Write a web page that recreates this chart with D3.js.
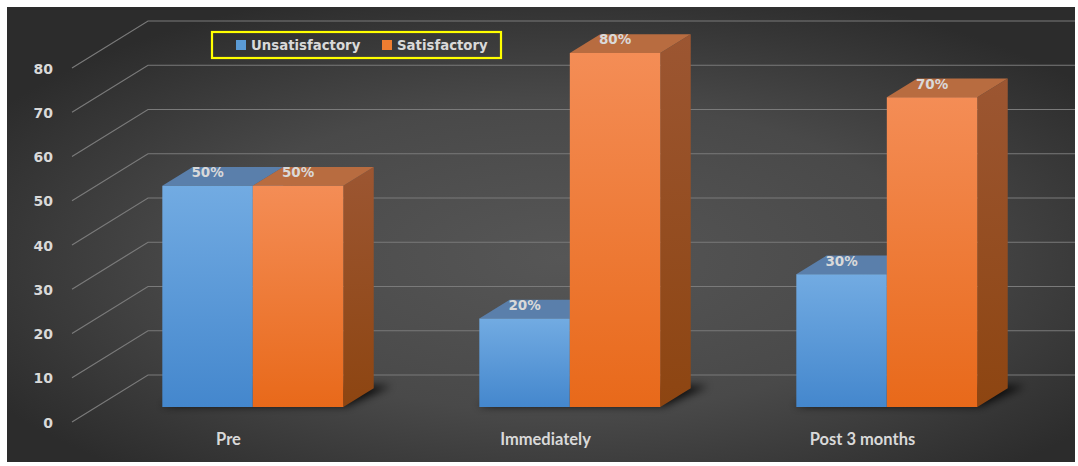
<!DOCTYPE html>
<html>
<head>
<meta charset="utf-8">
<script src="https://cdn.jsdelivr.net/npm/d3@7"></script>
<style>
html,body{margin:0;padding:0;background:#fff;}
svg{display:block;}
</style>
</head>
<body>
<svg id="chart" width="1078" height="466"></svg>
<script>
const categories = ["Pre", "Immediately", "Post 3 months"];
const seriesNames = ["Unsatisfactory", "Satisfactory"];
const unsatisfactory = [50, 20, 30];
const satisfactory = [50, 80, 70];
const yTicks = [0, 10, 20, 30, 40, 50, 60, 70, 80];

const svg = d3.select("#chart");
const defs = svg.append("defs");

// background
const bg = defs.append("radialGradient").attr("id","bg").attr("cx","52%").attr("cy","55%").attr("r","62%");
bg.append("stop").attr("offset","0%").attr("stop-color","#565656");
bg.append("stop").attr("offset","55%").attr("stop-color","#494949");
bg.append("stop").attr("offset","100%").attr("stop-color","#2c2c2c");
svg.append("rect").attr("x",7).attr("y",7).attr("width",1068).attr("height",455).attr("fill","url(#bg)");

function lin(id, c1, c2){
  const g = defs.append("linearGradient").attr("id",id).attr("x1",0).attr("y1",0).attr("x2",0).attr("y2",1);
  g.append("stop").attr("offset","0%").attr("stop-color",c1);
  g.append("stop").attr("offset","100%").attr("stop-color",c2);
}
lin("blueFront","#72abe2","#4487cd");
lin("orangeFront","#f48d56","#e8691a");
lin("orangeSide","#9c5632","#8d4511");
lin("blueSide","#4f6f96","#2f5d8c");
defs.append("filter").attr("id","shadow").attr("x","-20%").attr("y","-100%").attr("width","140%").attr("height","300%")
  .append("feGaussianBlur").attr("stdDeviation",4);

// scales (front plane) and depth vector
const y = d3.scaleLinear().domain([0,80]).range([422,68]);
const depth = {dx:76, dy:-47};
const z0 = 0.32, z1 = 0.72;
const x0 = d3.scaleBand().domain(categories).range([70,1021]).paddingInner(0.429).paddingOuter(0.2145);
const x1 = d3.scaleBand().domain(seriesNames).range([0, x0.bandwidth()]);

const frontLeft = 72;
// gridlines
const grid = svg.append("g").attr("stroke","#7a7a7a").attr("stroke-width",1.2).attr("fill","none");
yTicks.forEach(v=>{
  const yy = y(v);
  grid.append("path").attr("d",`M${frontLeft},${yy}L${frontLeft+depth.dx},${yy+depth.dy}L1075,${yy+depth.dy}`);
});

// tick labels
svg.append("g").selectAll("text").data(yTicks).join("text")
  .attr("x",53).attr("y",d=>y(d)+1.5).attr("text-anchor","end").attr("dominant-baseline","middle")
  .attr("font-family","DejaVu Sans").attr("font-weight","bold").attr("font-size",14).attr("fill","#d9d9d9")
  .text(d=>d);

// build bar data
const bars = [];
categories.forEach((c,i)=>{
  [unsatisfactory[i], satisfactory[i]].forEach((v,j)=>{
    bars.push({cat:c, series:seriesNames[j], value:v, j});
  });
});
const P = (x,v,z)=>[x+depth.dx*z, y(v)+depth.dy*z];

// shadows
const shadowG = svg.append("g").attr("filter","url(#shadow)");
categories.forEach(c=>{
  const xl = x0(c), xr = x0(c)+x0.bandwidth();
  const pts = [P(xl-4,0,z0+0.02),P(xr+2,0,z0+0.02),P(xr+14,0,z1+0.05),P(xl+14,0,z1+0.05)];
  shadowG.append("polygon").attr("points",pts.map(p=>p.join(",")).join(" ")).attr("fill","#000").attr("opacity",0.85);
});

const barG = svg.append("g");
bars.forEach(b=>{
  const xl = x0(b.cat)+x1(b.series), xr = xl + x1.bandwidth();
  const front = [P(xl,b.value,z0),P(xr,b.value,z0),P(xr,0,z0),P(xl,0,z0)];
  const top = [P(xl,b.value,z0),P(xr,b.value,z0),P(xr,b.value,z1),P(xl,b.value,z1)];
  const side = [P(xr,b.value,z0),P(xr,b.value,z1),P(xr,0,z1),P(xr,0,z0)];
  const isBlue = b.j===0;
  const g = barG.append("g");
  g.append("polygon").attr("points",side.map(p=>p.join(",")).join(" ")).attr("fill",isBlue?"url(#blueSide)":"url(#orangeSide)");
  g.append("polygon").attr("points",top.map(p=>p.join(",")).join(" ")).attr("fill",isBlue?"#5a7fab":"#b86c40");
  g.append("polygon").attr("points",front.map(p=>p.join(",")).join(" ")).attr("fill",isBlue?"url(#blueFront)":"url(#orangeFront)");
});

// data labels
svg.append("g").selectAll("text").data(bars).join("text")
  .attr("x",d=>P(x0(d.cat)+x1(d.series)+x1.bandwidth()/2,d.value,z0)[0])
  .attr("y",d=>P(0,d.value,z0)[1]-12.5)
  .attr("text-anchor","middle").attr("dominant-baseline","middle")
  .attr("font-family","DejaVu Sans").attr("font-weight","bold").attr("font-size",13.5).attr("fill","#d9d9d9")
  .text(d=>d.value+"%");

// category labels
svg.append("g").selectAll("text").data(categories).join("text")
  .attr("x",d=>x0(d)+x0.bandwidth()/2).attr("y",441)
  .attr("text-anchor","middle").attr("dominant-baseline","middle")
  .attr("font-family","Lato").attr("font-weight","bold").attr("font-size",16.5).attr("fill","#d9d9d9")
  .text(d=>d);

// legend
const lg = svg.append("g");
lg.append("rect").attr("x",212).attr("y",32).attr("width",289).attr("height",26).attr("fill","none").attr("stroke","#ffff00").attr("stroke-width",2.2);
const legendItems = [{name:seriesNames[0], color:"#5b9bd5", x:236},{name:seriesNames[1], color:"#ed7d31", x:382}];
legendItems.forEach(it=>{
  lg.append("rect").attr("x",it.x).attr("y",40).attr("width",10).attr("height",10).attr("fill",it.color);
  lg.append("text").attr("x",it.x+15).attr("y",45.5).attr("dominant-baseline","middle")
    .attr("font-family","DejaVu Sans").attr("font-weight","bold").attr("font-size",13.3).attr("fill","#d9d9d9")
    .text(it.name);
});
</script>
</body>
</html>
